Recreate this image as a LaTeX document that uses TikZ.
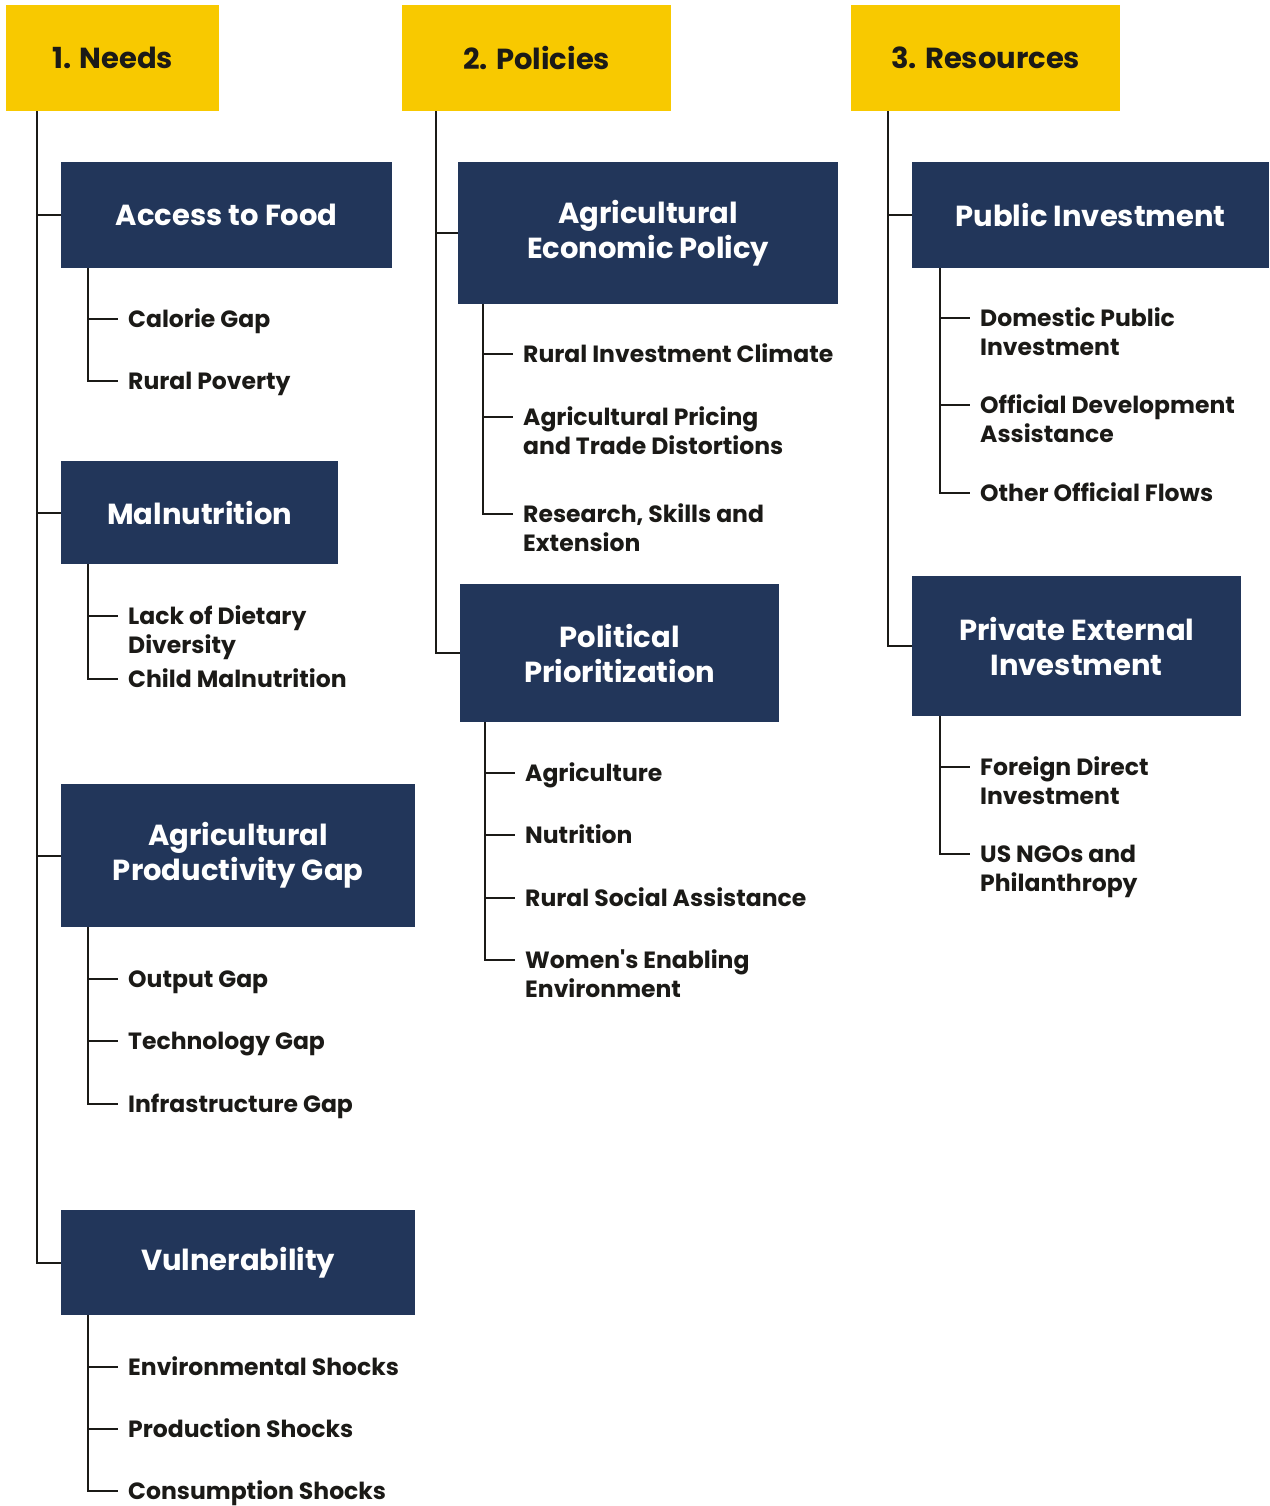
\documentclass[tikz,border=0pt]{standalone}
\usepackage{fontspec}
\setmainfont{Poppins}
\definecolor{NavyBox}{HTML}{22365A}
\definecolor{HeadYellow}{HTML}{F8C900}
\definecolor{InkDark}{HTML}{1B1A17}
\usetikzlibrary{positioning}
\newcommand{\itemlines}[1]{\begin{tabular}[t]{@{}l@{}}#1\end{tabular}}
\tikzset{
  headbox/.style={fill=HeadYellow, anchor=north west, inner sep=0pt, text=InkDark, font=\fontsize{29}{35}\selectfont\bfseries},
  catbox/.style={fill=NavyBox, anchor=north west, inner sep=0pt, text=white, align=center, font=\fontsize{29}{35}\selectfont\bfseries},
  item/.style={anchor=base west, inner xsep=10pt, inner ysep=0pt, text=InkDark, font=\fontsize{23.5}{29}\selectfont\bfseries},
  link/.style={draw=InkDark, line width=2pt}
}

\begin{document}
\begin{tikzpicture}[x=1pt, y=-1pt]
\useasboundingbox (0,0) rectangle (1269,1506);

% column heads
\node[headbox, minimum width=213, minimum height=106] (needs) at (6,5) {1. Needs};
\node[headbox, minimum width=269, minimum height=106] (policies) at (402,5) {2. Policies};
\node[headbox, minimum width=269, minimum height=106] (resources) at (851,5) {3. Resources};

% needs
\node[catbox, minimum width=331, minimum height=106] (afood) at (61,162) {Access to Food};
\node[catbox, minimum width=277, minimum height=103] (maln) at (61,461) {Malnutrition};
\node[catbox, minimum width=354, minimum height=143] (apg) at (61,784) {Agricultural\\Productivity Gap};
\node[catbox, minimum width=354, minimum height=105] (vul) at (61,1210) {Vulnerability};

\node[item] (cg) at (118,327) {Calorie Gap};
\node[item] (rp) at (118,389) {Rural Poverty};
\node[item] (ldd) at (118,624) {\itemlines{Lack of Dietary\\Diversity}};
\node[item] (cm) at (118,687) {Child Malnutrition};
\node[item] (og) at (118,987) {Output Gap};
\node[item] (tg) at (118,1049) {Technology Gap};
\node[item] (ig) at (118,1112) {Infrastructure Gap};
\node[item] (es) at (118,1375) {Environmental Shocks};
\node[item] (ps) at (118,1437) {Production Shocks};
\node[item] (cs) at (118,1499) {Consumption Shocks};

% policies
\node[catbox, minimum width=380, minimum height=142] (aep) at (458,162) {Agricultural\\Economic Policy};
\node[catbox, minimum width=319, minimum height=138] (polp) at (460,584) {Political\\Prioritization};

\node[item] (ric) at (513,362) {Rural Investment Climate};
\node[item] (apt) at (513,425) {\itemlines{Agricultural Pricing\\and Trade Distortions}};
\node[item] (rse) at (513,522) {\itemlines{Research, Skills and\\Extension}};
\node[item] (agr) at (515,781) {Agriculture};
\node[item] (nut) at (515,843) {Nutrition};
\node[item] (rsa) at (515,906) {Rural Social Assistance};
\node[item] (wee) at (515,968) {\itemlines{Women\textquotesingle s Enabling\\Environment}};

% resources
\node[catbox, minimum width=357, minimum height=106] (pubi) at (912,162) {Public Investment};
\node[catbox, minimum width=329, minimum height=140] (pexi) at (912,576) {Private External\\Investment};

\node[item] (dpi) at (970,326) {\itemlines{Domestic Public\\Investment}};
\node[item] (oda) at (970,413) {\itemlines{Official Development\\Assistance}};
\node[item] (oof) at (970,501) {Other Official Flows};
\node[item] (fdi) at (970,775) {\itemlines{Foreign Direct\\Investment}};
\node[item] (ngo) at (970,862) {\itemlines{US NGOs and\\Philanthropy}};

% trunks
\foreach \b in {afood,maln,apg,vul}
  \draw[link] ([xshift=31pt]needs.south west) |- (\b.west);
\foreach \b in {aep,polp}
  \draw[link] ([xshift=34pt]policies.south west) |- (\b.west);
\foreach \b in {pubi,pexi}
  \draw[link] ([xshift=37pt]resources.south west) |- (\b.west);

% branches
\foreach \i in {cg,rp}
  \draw[link] ([xshift=27pt]afood.south west) |- ([yshift=8pt]\i.base west);
\foreach \i in {ldd,cm}
  \draw[link] ([xshift=27pt]maln.south west) |- ([yshift=8pt]\i.base west);
\foreach \i in {og,tg,ig}
  \draw[link] ([xshift=27pt]apg.south west) |- ([yshift=8pt]\i.base west);
\foreach \i in {es,ps,cs}
  \draw[link] ([xshift=27pt]vul.south west) |- ([yshift=8pt]\i.base west);
\foreach \i in {ric,apt,rse}
  \draw[link] ([xshift=25pt]aep.south west) |- ([yshift=8pt]\i.base west);
\foreach \i in {agr,nut,rsa,wee}
  \draw[link] ([xshift=25pt]polp.south west) |- ([yshift=8pt]\i.base west);
\foreach \i in {dpi,oda,oof}
  \draw[link] ([xshift=28pt]pubi.south west) |- ([yshift=8pt]\i.base west);
\foreach \i in {fdi,ngo}
  \draw[link] ([xshift=28pt]pexi.south west) |- ([yshift=8pt]\i.base west);
\end{tikzpicture}
\end{document}
